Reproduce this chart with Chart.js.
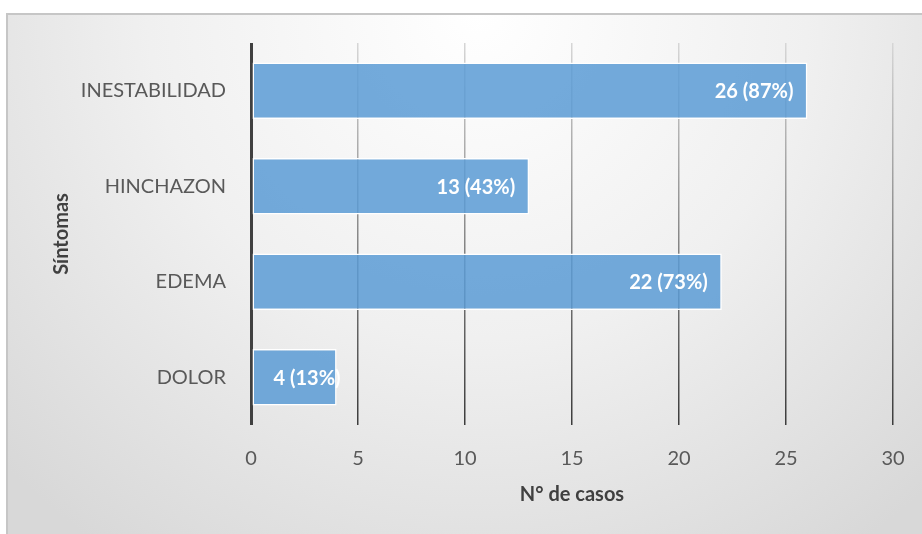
<!DOCTYPE html>
<html>
<head>
<meta charset="utf-8">
<script src="https://cdn.jsdelivr.net/npm/chart.js@4.4.1/dist/chart.umd.min.js"></script>
<style>
  html, body { margin: 0; padding: 0; background: #ffffff; }
  body { width: 922px; height: 534px; position: relative; overflow: hidden; }
  #frame {
    position: absolute; left: 6px; top: 13px; width: 940px; height: 540px;
    border-left: 2px solid #c6c6c6; border-top: 2px solid #c6c6c6;
    background: radial-gradient(ellipse 70% 120% at 50% 0%, #ffffff 0%, #f0f0f0 50%, #d8d8d8 100%);
  }
  #c { position: absolute; left: 0; top: 0; }
</style>
</head>
<body>
<div id="frame"></div>
<canvas id="c" width="922" height="534"></canvas>
<script>
const categories = ['INESTABILIDAD', 'HINCHAZON', 'EDEMA', 'DOLOR'];
const cases = [26, 13, 22, 4];
const percents = [87, 43, 73, 13];
const xTicks = [0, 5, 10, 15, 20, 25, 30];

const FONT = "Lato, 'Open Sans', sans-serif";

const barLabels = {
  id: 'barLabels',
  afterDatasetsDraw(chart) {
    const ctx = chart.ctx;
    const meta = chart.getDatasetMeta(0);
    ctx.save();
    ctx.font = "bold 20px " + FONT;
    ctx.fillStyle = '#ffffff';
    ctx.textBaseline = 'middle';
    meta.data.forEach((bar, i) => {
      const text = cases[i] + ' (' + percents[i] + '%)';
      const w = ctx.measureText(text).width;
      let x = bar.x - 14 - w;
      if (x < bar.base + 21) x = bar.base + 21;
      ctx.textAlign = 'left';
      ctx.fillText(text, x, bar.y + 1);
    });
    ctx.restore();
  }
};

new Chart(document.getElementById('c'), {
  type: 'bar',
  data: {
    labels: categories,
    datasets: [{
      data: cases,
      backgroundColor: 'rgba(91,155,213,0.85)',
      borderColor: '#ffffff',
      borderWidth: 1.5,
      borderSkipped: false,
      categoryPercentage: 1,
      barPercentage: 0.59
    }]
  },
  options: {
    indexAxis: 'y',
    responsive: false,
    animation: false,
    layout: { padding: { top: 43, right: 29, left: 0, bottom: 0 } },
    plugins: { legend: { display: false }, tooltip: { enabled: false } },
    scales: {
      x: {
        min: 0, max: 30,
        afterBuildTicks(scale) { scale.ticks = xTicks.map(v => ({ value: v })); },
        afterFit(scale) { scale.height = 109; scale.paddingRight = 0; scale.paddingLeft = 0; },
        border: { display: false },
        grid: {
          drawTicks: false,
          lineWidth: (c) => c.index === 0 ? 3 : 1.5,
          color: (c) => {
            if (c.index === 0) return '#404040';
            const a = c.chart.chartArea;
            if (!a) return '#888888';
            const g = c.chart.ctx.createLinearGradient(0, a.top, 0, a.bottom);
            g.addColorStop(0, '#d6d6d6');
            g.addColorStop(1, '#3c3c3c');
            return g;
          }
        },
        ticks: { color: '#595959', padding: 22, font: { family: FONT, size: 20 } },
        title: {
          display: true, text: 'N° de casos', color: '#404040',
          font: { family: FONT, size: 20, weight: 'bold' },
          padding: { top: 0, bottom: 27 }
        }
      },
      y: {
        afterFit(scale) { scale.width = 251; scale.paddingTop = 0; scale.paddingBottom = 0; },
        border: { display: false },
        grid: { display: false, drawTicks: false },
        ticks: { color: '#595959', padding: 25, font: { family: FONT, size: 20 } },
        title: {
          display: true, text: 'Síntomas', color: '#404040',
          font: { family: FONT, size: 20, weight: 'bold' },
          padding: { top: 50, bottom: 0 }
        }
      }
    }
  },
  plugins: [barLabels]
});
</script>
</body>
</html>
